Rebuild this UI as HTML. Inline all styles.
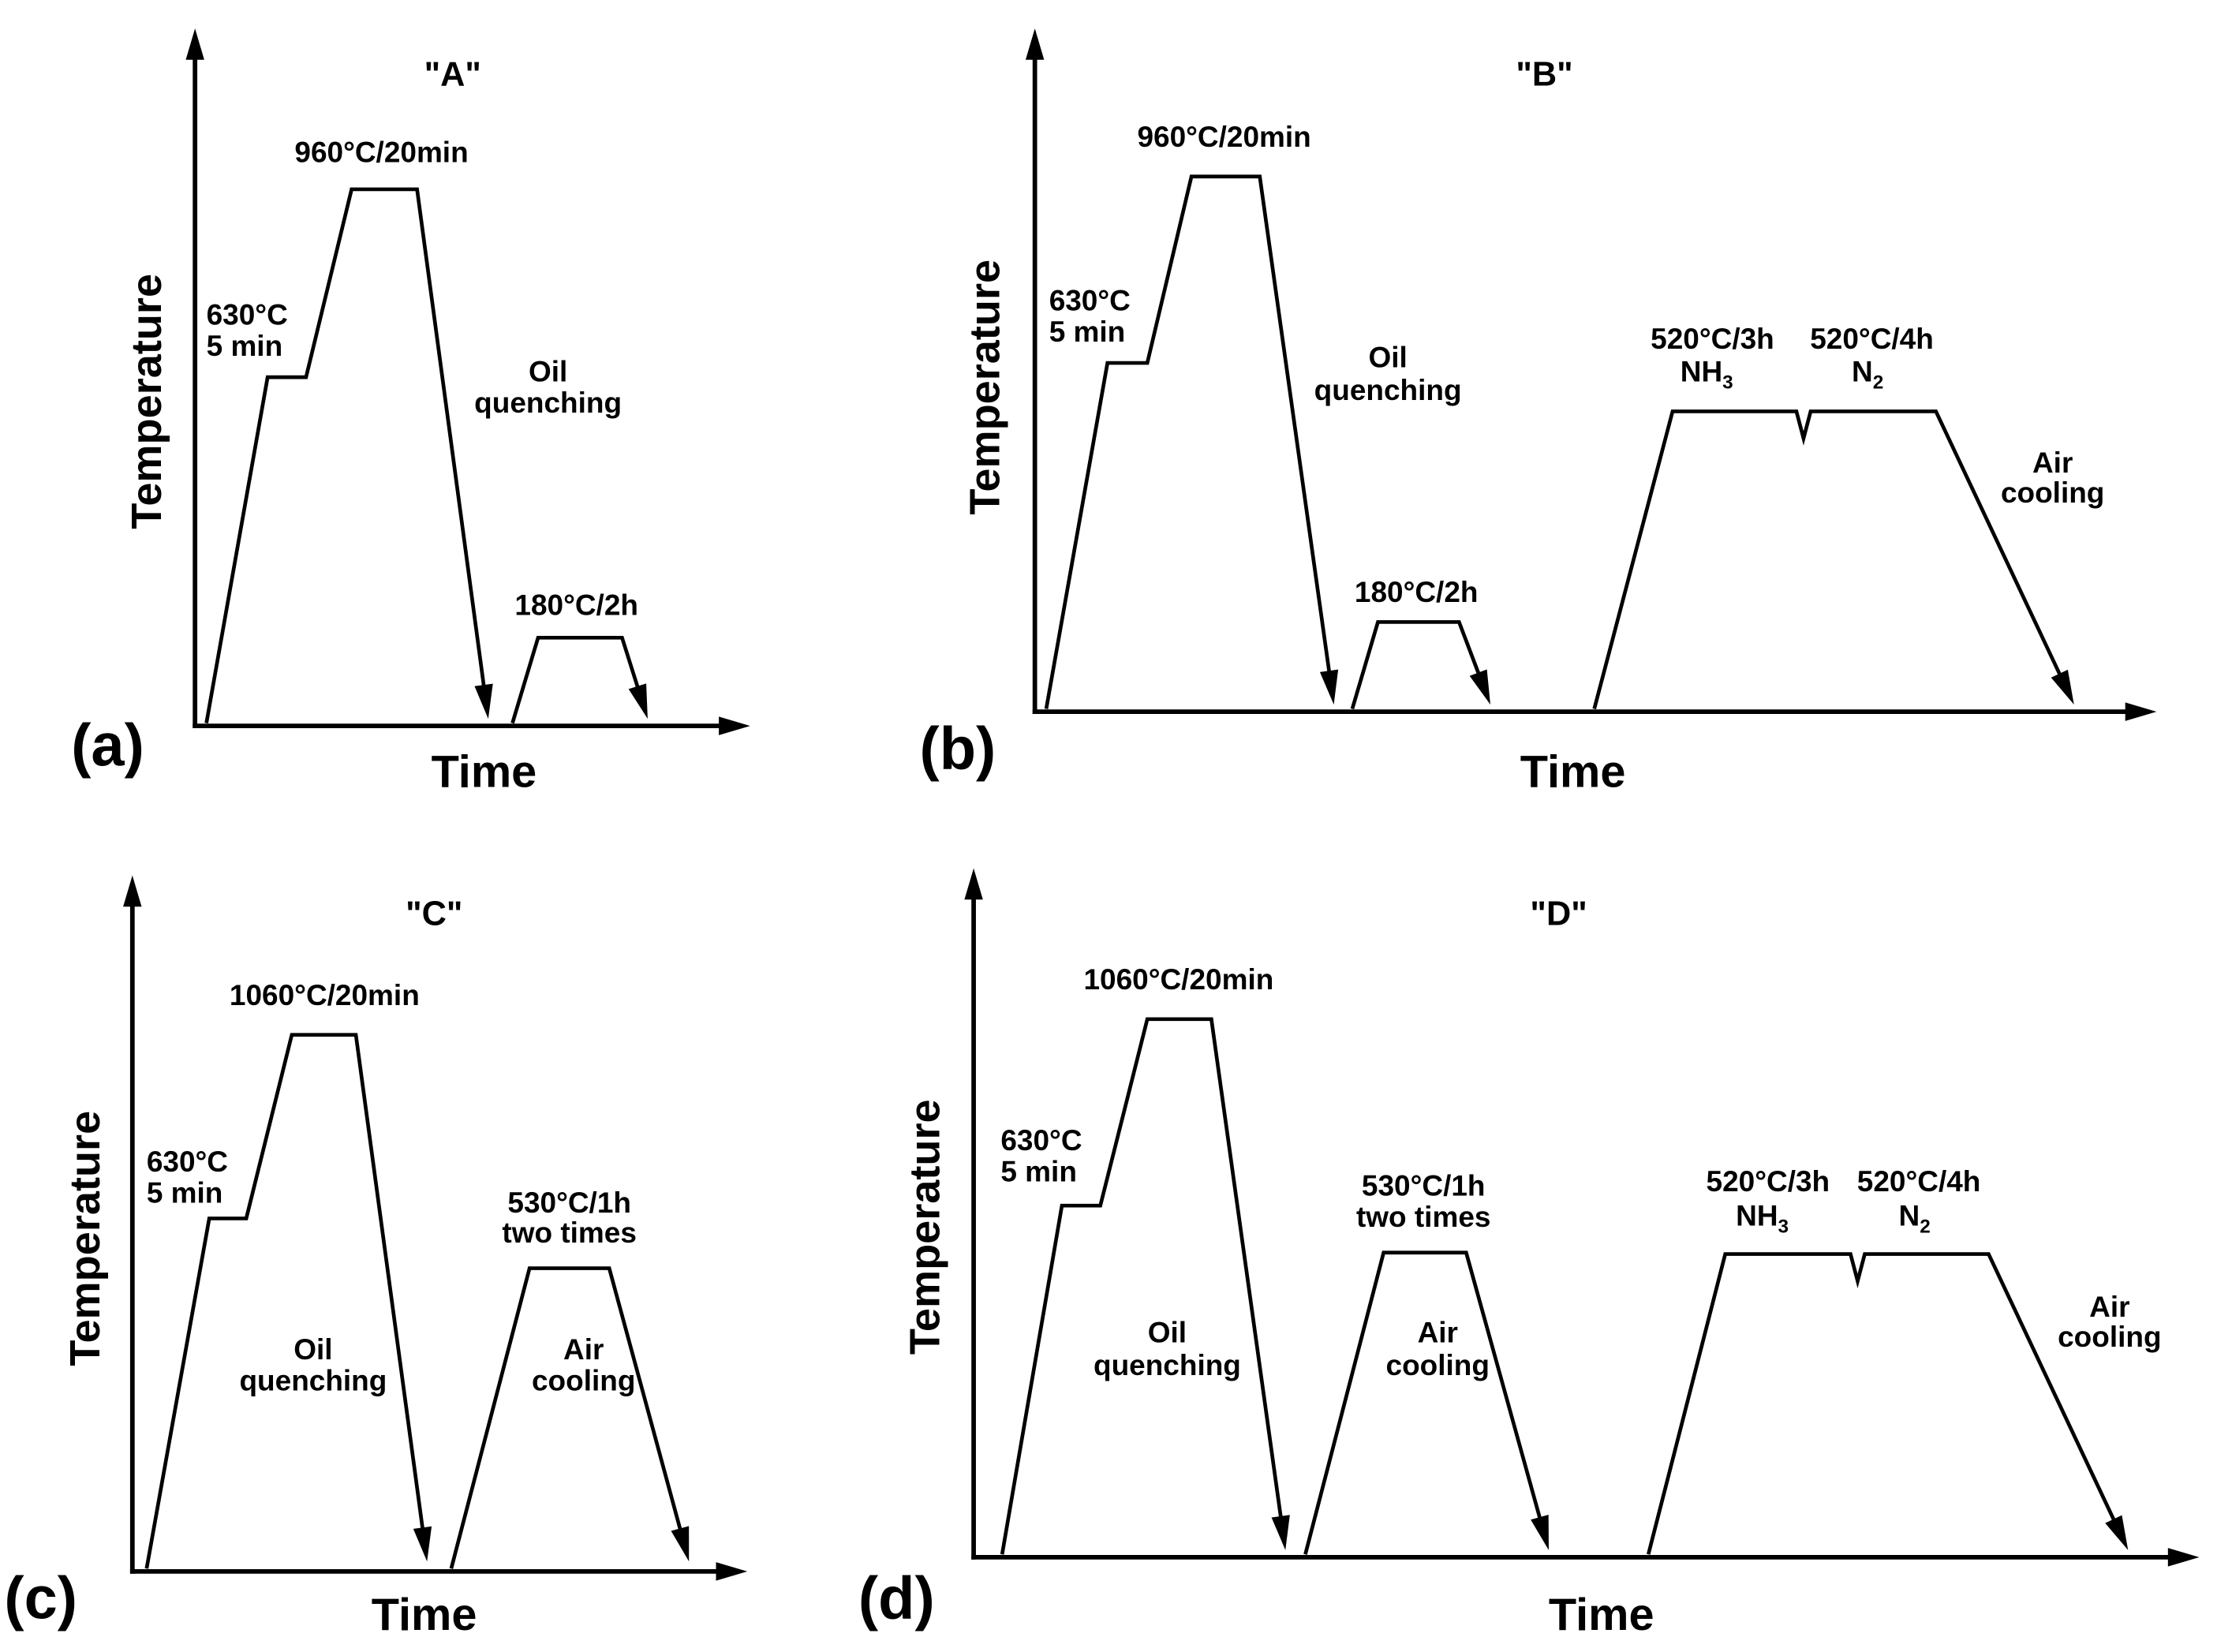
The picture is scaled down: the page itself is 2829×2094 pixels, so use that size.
<!DOCTYPE html>
<html><head><meta charset="utf-8"><style>
html,body{margin:0;padding:0;background:#fff;}
svg{display:block;}
text{font-family:"Liberation Sans",sans-serif;font-weight:bold;fill:#000;}
</style></head><body>
<svg id="fig" width="2829" height="2094" viewBox="0 0 1568 1160.6" preserveAspectRatio="none" xmlns="http://www.w3.org/2000/svg"></svg>
<script>
// Panel axes origins (x0,y0), y-axis top, x-axis end
const panelNames = ["a","b","c","d"];
const panelTitles = ["\"A\"","\"B\"","\"C\"","\"D\""];
const axisOrigins = [[137,510],[727,500],[93,1104],[684,1094]];
const axisTops = [20,20,615,610];
const axisEnds = [527,1515,525,1545];
// Profiles: [time, temperature] in panel units (time from origin, temp above axis); last segment ends with arrow
const profilesA = [
  [[8,2],[51,245],[78,245],[110,377],[156,377],[206,5]],
  [[223,2],[241,62],[300,62],[318,5]]
];
const profilesB = [
  [[8,2],[51,245],[79,245],[110,376],[158,376],[210,5]],
  [[223,2],[241,63],[298,63],[320,5]],
  [[393,2],[448,211],[535,211],[540,192],[545,211],[633,211],[730,5]]
];
const profilesC = [
  [[10,2],[54,248],[80,248],[112,377],[157,377],[207,7]],
  [[224,2],[279,213],[335,213],[391,7]]
];
const profilesD = [
  [[20,2],[62,247],[89,247],[122,378],[167,378],[219,5]],
  [[233,2],[288,214],[346,214],[404,5]],
  [[474,2],[528,213],[616,213],[621,194],[626,213],[713,213],[811,5]]
];
const profiles = [profilesA, profilesB, profilesC, profilesD];
// Labels: [text, t, T, anchor, subscript]
const labelsA = [["960°C/20min",131,396,"middle"],["630°C",8,282,"start"],["5 min",8,260,"start"],["Oil",248,242,"middle"],["quenching",248,220,"middle"],["180°C/2h",268,78,"middle"]];
const labelsB = [["960°C/20min",133,397,"middle"],["630°C",10,282,"start"],["5 min",10,260,"start"],["Oil",248,242,"middle"],["quenching",248,219,"middle"],["180°C/2h",268,77,"middle"],["520°C/3h",476,255,"middle"],["NH",472,232,"middle","3"],["520°C/4h",588,255,"middle"],["N",585,232,"middle","2"],["Air",715,168,"middle"],["cooling",715,147,"middle"]];
const labelsC = [["1060°C/20min",135,398,"middle"],["630°C",10,281,"start"],["5 min",10,259,"start"],["530°C/1h",307,252,"middle"],["two times",307,231,"middle"],["Oil",127,149,"middle"],["quenching",127,127,"middle"],["Air",317,149,"middle"],["cooling",317,127,"middle"]];
const labelsD = [["1060°C/20min",144,399,"middle"],["630°C",19,286,"start"],["5 min",19,264,"start"],["530°C/1h",316,254,"middle"],["two times",316,232,"middle"],["Oil",136,151,"middle"],["quenching",136,128,"middle"],["Air",326,151,"middle"],["cooling",326,128,"middle"],["520°C/3h",558,257,"middle"],["NH",554,233,"middle","3"],["520°C/4h",664,257,"middle"],["N",661,233,"middle","2"],["Air",798,169,"middle"],["cooling",798,148,"middle"]];
const labels = [labelsA,labelsB,labelsC,labelsD];
const panelLetterPos = [[50,538],[646,540],[3,1137],[603,1137]];
const timeLabelPos = [[340,553],[1105,553],[298,1145],[1125,1145]];
const tempLabelPos = [[103,282],[692,272],[60,870],[650,862]];
const titlePos = [[318,60],[1085,60],[305,650],[1095,650]];

const NS="http://www.w3.org/2000/svg";
const svg=document.getElementById('fig');
function mk(tag,attrs,parent){const e=document.createElementNS(NS,tag);for(const k in attrs)e.setAttribute(k,attrs[k]);(parent||svg).appendChild(e);return e;}
function arrowHead(g,x1,y1,x2,y2,L,W){
  const dx=x2-x1,dy=y2-y1,len=Math.hypot(dx,dy),ux=dx/len,uy=dy/len;
  const bx=x2-ux*L,by=y2-uy*L;
  const p=mk('polygon',{points:`${x2},${y2} ${bx-uy*W/2},${by+ux*W/2} ${bx+uy*W/2},${by-ux*W/2}`,fill:'#000'},g);
  
  
  return [bx+ux*2,by+uy*2];
}
panelNames.forEach((pn,i)=>{
  const [x0,y0]=axisOrigins[i];
  const xs=t=>x0+t, ys=T=>y0-T;
  const g=mk('g',{});
  
  
  const ya=mk('line',{x1:x0,y1:y0+1.6,x2:x0,y2:axisTops[i]+18,stroke:'#000','stroke-width':3.2},g);
  
  
  arrowHead(g,x0,y0,x0,axisTops[i],22,13);
  const xa=mk('line',{x1:x0-1.6,y1:y0,x2:axisEnds[i]-18,y2:y0,stroke:'#000','stroke-width':3.2},g);
  
  
  arrowHead(g,x0,y0,axisEnds[i],y0,22,13);
  profiles[i].forEach(seg=>{
    const pts=seg.map(p=>[xs(p[0]),ys(p[1])]);
    const n=pts.length;
    const end=arrowHead(g,pts[n-2][0],pts[n-2][1],pts[n-1][0],pts[n-1][1],24,13);
    const drawPts=pts.slice(0,n-1).concat([end]);
    const pl=mk('polyline',{points:drawPts.map(p=>p.join(',')).join(' '),fill:'none',stroke:'#000','stroke-width':2.6,'stroke-linejoin':'miter'},g);
    
    
  });
  labels[i].forEach(l=>{
    const t=mk('text',{x:xs(l[1]),y:ys(l[2]),'text-anchor':l[3],'font-size':20.5},g);
    t.textContent=l[0];
    if(l[4]){const s=mk('tspan',{'font-size':13.5,dy:5},t);s.textContent=l[4];}
    
    
  });
  const ti=mk('text',{x:titlePos[i][0],y:titlePos[i][1],'text-anchor':'middle','font-size':24},g);
  ti.textContent=panelTitles[i];
  
  
  const pl=mk('text',{x:panelLetterPos[i][0],y:panelLetterPos[i][1],'font-size':42},g);
  pl.textContent='('+pn+')';
  
  
  const tl=mk('text',{x:timeLabelPos[i][0],y:timeLabelPos[i][1],'text-anchor':'middle','font-size':32},g);
  tl.textContent='Time';
  
  
  const [tx,ty]=tempLabelPos[i];
  const yl=mk('text',{x:tx,y:ty,'text-anchor':'middle','dominant-baseline':'central','font-size':30,transform:`rotate(-90 ${tx} ${ty})`},g);
  yl.textContent='Temperature';
  
  
});
</script>
</body></html>
